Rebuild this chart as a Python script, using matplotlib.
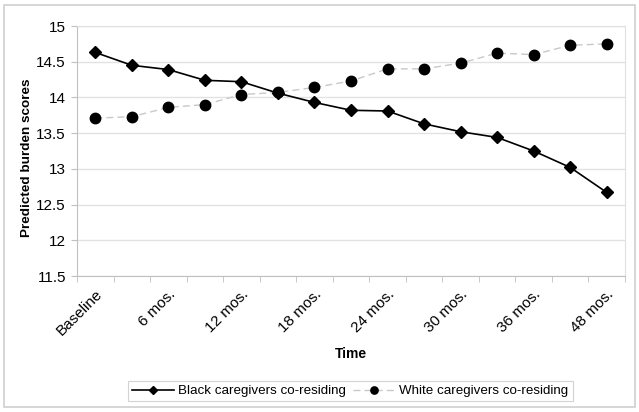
import numpy as np
import matplotlib.pyplot as plt
from matplotlib.patches import Rectangle

plt.rcParams['font.family'] = ['Liberation Sans', 'DejaVu Sans']

# 15 time points, only every other one labelled
tick_labels = ['Baseline', '', '6 mos.', '', '12 mos.', '', '18 mos.', '',
               '24 mos.', '', '30 mos.', '', '36 mos.', '', '48 mos.']
black = [14.63, 14.45, 14.39, 14.24, 14.22, 14.06, 13.93, 13.82,
         13.81, 13.63, 13.52, 13.44, 13.25, 13.02, 12.67]
white = [13.71, 13.73, 13.86, 13.90, 14.04, 14.07, 14.14, 14.23,
         14.40, 14.40, 14.48, 14.62, 14.60, 14.73, 14.75]

fig = plt.figure(figsize=(6.39, 4.12), dpi=100)
ax = fig.add_axes([77/639, 1 - 276/412, 548/639, 250/412])

x = np.arange(len(black))
ax.plot(x, white, color='#c8c8c8', lw=1, ls=(0, (5, 3)), marker='o',
        ms=7.5, mfc='black', mec='black', label='White caregivers co-residing', zorder=3)
ax.plot(x, black, color='black', lw=1.2, marker='D', ms=6.5,
        mfc='black', mec='black', label='Black caregivers co-residing', zorder=4)

ax.set_xlim(-0.5, len(black) - 0.5)
ax.set_ylim(11.5, 15)
ax.set_yticks(np.arange(11.5, 15.01, 0.5))
ax.set_yticklabels(['11.5', '12', '12.5', '13', '13.5', '14', '14.5', '15'], fontsize=11)
ax.set_xticks(x)
ax.set_xticklabels(tick_labels, rotation=45, ha='right', rotation_mode='anchor', fontsize=11)
ax.set_xticks(np.arange(-0.5, len(black)), minor=True)
ax.tick_params(axis='x', which='major', length=0, pad=8)
ax.tick_params(axis='x', which='minor', length=4, color='#c0c0c0', direction='out')
ax.tick_params(axis='y', length=4, color='#c0c0c0', pad=4)
ax.grid(axis='y', color='#e2e2e2', lw=1)
ax.set_axisbelow(True)
for side in ['left', 'bottom']:
    ax.spines[side].set_color('#c0c0c0')
for side in ['top', 'right']:
    ax.spines[side].set_color('#e0e0e0')

ax.set_ylabel('Predicted burden scores', fontsize=9.7, fontweight='bold', va='center')
ax.yaxis.set_label_coords(-50/548, 0.474)
ax.set_xlabel('Time', fontsize=10, fontweight='bold', va='center')
ax.xaxis.set_label_coords(0.5, -78/250)

h, l = ax.get_legend_handles_labels()
leg = fig.legend(h[::-1], l[::-1], loc='center', bbox_to_anchor=(350/639, 1 - 391/412),
                 ncol=2, fontsize=9.6, frameon=True, fancybox=False, edgecolor='#c8c8c8',
                 handlelength=3.2, columnspacing=0.5, borderpad=0.3, handletextpad=0.3,
                 markerscale=0.7)
leg.get_frame().set_linewidth(0.8)

fig.patches.append(Rectangle((4/639, 5/412), 631/639, 402/412, transform=fig.transFigure,
                             fill=False, edgecolor='#d0d0d0', lw=1.2))

fig.savefig('out.png', dpi=100)
